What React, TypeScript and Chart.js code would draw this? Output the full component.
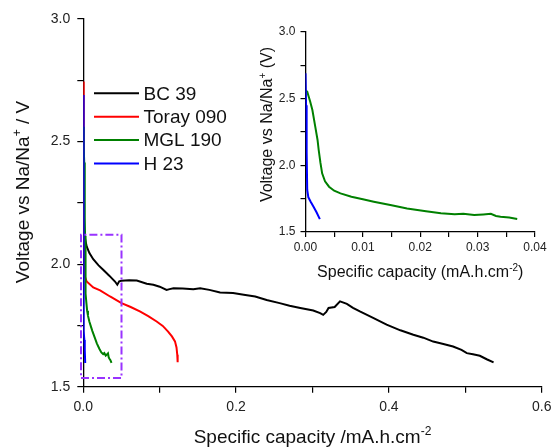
import React, { useEffect, useRef } from 'react';
import { Chart, registerables } from 'chart.js';

Chart.register(...registerables);

const FONT = "'Liberation Sans', Arial, Helvetica, sans-serif";

// ---------- data ----------
const seriesLabels = ['BC 39', 'Toray 090', 'MGL 190', 'H 23'];
const seriesColors = ['#000000', '#ff0000', '#008000', '#0000ff'];
const insetSeries = ['MGL 190', 'H 23'];

const bcX = [0, 0.0005, 0.001, 0.0022, 0.0044, 0.008, 0.013, 0.02, 0.026, 0.034, 0.0415, 0.0445, 0.047, 0.05, 0.06, 0.07, 0.083, 0.0917, 0.1, 0.109, 0.113, 0.118, 0.13, 0.144, 0.153, 0.165, 0.179, 0.196, 0.21, 0.225, 0.24, 0.257, 0.27, 0.284, 0.301, 0.31, 0.314, 0.318, 0.321, 0.329, 0.336, 0.345, 0.353, 0.362, 0.38, 0.397, 0.415, 0.432, 0.445, 0.458, 0.47, 0.484, 0.495, 0.502, 0.51, 0.519, 0.528, 0.537];
const bcY = [2.2, 2.16, 2.13, 2.106, 2.072, 2.045, 2.02, 1.995, 1.977, 1.953, 1.929, 1.916, 1.93, 1.932, 1.934, 1.933, 1.92, 1.916, 1.908, 1.895, 1.898, 1.902, 1.901, 1.898, 1.902, 1.895, 1.884, 1.882, 1.875, 1.868, 1.854, 1.841, 1.83, 1.821, 1.811, 1.8, 1.793, 1.805, 1.821, 1.825, 1.848, 1.838, 1.822, 1.807, 1.78, 1.753, 1.73, 1.712, 1.7, 1.684, 1.675, 1.664, 1.65, 1.637, 1.632, 1.626, 1.612, 1.599];

const torayX = [0, 0.0005, 0.001, 0.002, 0.0044, 0.013, 0.022, 0.035, 0.05, 0.062, 0.074, 0.085, 0.096, 0.104, 0.111, 0.116, 0.12, 0.122, 0.123, 0.1235];
const torayY = [2.745, 2.4, 2.1, 1.95, 1.929, 1.905, 1.893, 1.868, 1.841, 1.825, 1.807, 1.788, 1.766, 1.748, 1.725, 1.705, 1.685, 1.66, 1.63, 1.6];

const mglX = [0, 0.0003, 0.0008, 0.0012, 0.0017, 0.0021, 0.0023, 0.0026, 0.0029, 0.0034, 0.0041, 0.005, 0.0061, 0.008, 0.01, 0.0119, 0.015, 0.0177, 0.021, 0.0236, 0.026, 0.0275, 0.0294, 0.031, 0.0323, 0.0332, 0.034, 0.0355, 0.0369];
const mglY = [2.56, 2.552, 2.48, 2.415, 2.29, 2.19, 2.115, 2.02, 1.94, 1.88, 1.84, 1.81, 1.79, 1.765, 1.745, 1.727, 1.7, 1.677, 1.655, 1.64, 1.633, 1.637, 1.627, 1.632, 1.636, 1.62, 1.615, 1.608, 1.597];

const h23X = [0, 0.0001, 0.0002, 0.0003, 0.0005, 0.0009, 0.0014, 0.0019, 0.0025];
const h23Y = [2.69, 2.45, 2.1, 1.815, 1.76, 1.727, 1.69, 1.65, 1.597];

const seriesX = [bcX, torayX, mglX, h23X];
const seriesY = [bcY, torayY, mglY, h23Y];

// zoom box (data coordinates of corners)
const boxX = [-0.003, 0.05, 0.05, -0.003, -0.003];
const boxY = [1.535, 1.535, 2.12, 2.12, 1.535];

// axis ranges and tick labels
const mainXRange = [0, 0.6];
const mainYRange = [1.5, 3.0];
const mainXTickLabels = ['0.0', '0.2', '0.4', '0.6'];
const mainYTickLabels = ['1.5', '2.0', '2.5', '3.0'];
const insetXRange = [0, 0.04];
const insetYRange = [1.5, 3.0];
const insetXTickLabels = ['0.00', '0.01', '0.02', '0.03', '0.04'];
const insetYTickLabels = ['1.5', '2.0', '2.5', '3.0'];

// ---------- helpers ----------
type Part = { t: string; sup?: boolean };

function drawRich(ctx: CanvasRenderingContext2D, parts: Part[], size: number, center: number, baseline: number, rotated: boolean) {
  ctx.save();
  const supSize = Math.round(size * 0.62);
  let total = 0;
  const widths = parts.map((p) => {
    ctx.font = `${p.sup ? supSize : size}px ${FONT}`;
    const w = ctx.measureText(p.t).width;
    total += w;
    return w;
  });
  if (rotated) {
    ctx.translate(baseline, center);
    ctx.rotate(-Math.PI / 2);
  } else {
    ctx.translate(center, baseline);
  }
  ctx.textBaseline = 'alphabetic';
  ctx.textAlign = 'left';
  ctx.fillStyle = '#111';
  let x = -total / 2;
  parts.forEach((p, i) => {
    ctx.font = `${p.sup ? supSize : size}px ${FONT}`;
    ctx.fillText(p.t, x, p.sup ? -size * 0.4 : 0);
    x += widths[i];
  });
  ctx.restore();
}

function titlesPlugin(cfg: { x: Part[]; y: Part[]; size: number; xBase: number; yBase: number; yCenter: number }) {
  return {
    id: 'richTitles',
    afterDraw(chart: any) {
      const ctx = chart.ctx as CanvasRenderingContext2D;
      const a = chart.chartArea;
      drawRich(ctx, cfg.x, cfg.size, (a.left + a.right) / 2, cfg.xBase, false);
      drawRich(ctx, cfg.y, cfg.size, cfg.yCenter, cfg.yBase, true);
    },
  };
}

const legendPlugin = {
  id: 'customLegend',
  afterDraw(chart: any) {
    const ctx = chart.ctx as CanvasRenderingContext2D;
    ctx.save();
    ctx.font = `19px ${FONT}`;
    ctx.textBaseline = 'middle';
    ctx.textAlign = 'left';
    seriesLabels.forEach((lab, i) => {
      const ds = chart.data.datasets.find((d: any) => d.label === lab);
      const y = 93.3 + i * 23.4;
      ctx.strokeStyle = ds.borderColor;
      ctx.lineWidth = 2;
      ctx.beginPath();
      ctx.moveTo(94, y);
      ctx.lineTo(139, y);
      ctx.stroke();
      ctx.fillStyle = '#111';
      ctx.fillText(lab, 143.5, y + 1);
    });
    ctx.restore();
  },
};

function isMultiple(v: number, step: number) {
  const r = v / step;
  return Math.abs(r - Math.round(r)) < 1e-6;
}

function seriesDatasets(only?: string[]) {
  return seriesX
    .map((xs, i) => ({
      label: seriesLabels[i],
      data: xs.map((x, j) => ({ x, y: seriesY[i][j] })),
      borderColor: seriesColors[i],
      backgroundColor: seriesColors[i],
      borderWidth: 2,
      pointRadius: 0,
      fill: false,
      tension: 0,
      order: 4 - i,
    }))
    .filter((d) => !only || only.includes(d.label));
}

function axis(opts: {
  min: number; max: number; step: number; major: number; labels: string[]; decimals: number;
  fontSize: number; tl: number; pad: number; size: number; horizontal: boolean;
}) {
  return {
    type: 'linear' as const,
    min: opts.min,
    max: opts.max,
    afterFit: (s: any) => {
      if (opts.horizontal) s.height = opts.size; else s.width = opts.size;
      s.paddingLeft = 0; s.paddingRight = 0; s.paddingTop = 0; s.paddingBottom = 0;
    },
    ticks: {
      stepSize: opts.step,
      autoSkip: false,
      maxRotation: 0,
      padding: opts.pad,
      color: '#222',
      font: { size: opts.fontSize, family: FONT },
      callback: (v: any) => {
        const n = Number(v);
        if (!isMultiple(n - opts.min, opts.major)) return '';
        const s = n.toFixed(opts.decimals);
        return opts.labels.includes(s) ? s : '';
      },
    },
    grid: { display: true, drawOnChartArea: false, drawTicks: true, tickLength: opts.tl, color: '#000', lineWidth: 1.2 },
    border: { display: true, color: '#000', width: 1.3 },
  };
}

function MainChart() {
  const ref = useRef<HTMLCanvasElement>(null);
  useEffect(() => {
    const ds: any[] = seriesDatasets();
    ds.push({
      label: 'zoom box',
      data: boxX.map((x, j) => ({ x, y: boxY[j] })),
      borderColor: '#9933ff',
      borderWidth: 2,
      borderDash: [8, 3, 2, 3],
      pointRadius: 0,
      fill: false,
      tension: 0,
      clip: false,
      order: -1,
    });
    const chart = new Chart(ref.current!, {
      type: 'line',
      data: { datasets: ds },
      options: {
        animation: false,
        responsive: false,
        layout: { padding: { left: 0, top: 19, right: 12.3, bottom: 0 } },
        plugins: { legend: { display: false }, tooltip: { enabled: false }, title: { display: false } },
        scales: {
          x: axis({ min: mainXRange[0], max: mainXRange[1], step: 0.1, major: 0.2, labels: mainXTickLabels, decimals: 1, fontSize: 14, tl: 6, pad: 6, size: 60.3, horizontal: true }),
          y: axis({ min: mainYRange[0], max: mainYRange[1], step: 0.25, major: 0.5, labels: mainYTickLabels, decimals: 1, fontSize: 14, tl: 6, pad: 7, size: 83.3, horizontal: false }),
        },
      } as any,
      plugins: [
        titlesPlugin({
          x: [{ t: 'Specific capacity /mA.h.cm' }, { t: '-2', sup: true }],
          y: [{ t: 'Voltage vs Na/Na' }, { t: '+', sup: true }, { t: ' / V' }],
          size: 19, xBase: 443, yBase: 28.5, yCenter: 192,
        }),
        legendPlugin,
      ],
    });
    return () => chart.destroy();
  }, []);
  return <canvas ref={ref} width={554} height={447} style={{ position: 'absolute', left: 0, top: 0, width: 554, height: 447 }} />;
}

function InsetChart() {
  const ref = useRef<HTMLCanvasElement>(null);
  useEffect(() => {
    const chart = new Chart(ref.current!, {
      type: 'line',
      data: { datasets: seriesDatasets(insetSeries) },
      options: {
        animation: false,
        responsive: false,
        layout: { padding: { left: 0, top: 32, right: 19, bottom: 0 } },
        plugins: { legend: { display: false }, tooltip: { enabled: false }, title: { display: false } },
        scales: {
          x: axis({ min: insetXRange[0], max: insetXRange[1], step: 0.005, major: 0.01, labels: insetXTickLabels, decimals: 2, fontSize: 12, tl: 5, pad: 3, size: 68, horizontal: true }),
          y: axis({ min: insetYRange[0], max: insetYRange[1], step: 0.25, major: 0.5, labels: insetYTickLabels, decimals: 1, fontSize: 12, tl: 5, pad: 5, size: 75.5, horizontal: false }),
        },
      } as any,
      plugins: [
        titlesPlugin({
          x: [{ t: 'Specific capacity (mA.h.cm' }, { t: '-2', sup: true }, { t: ')' }],
          y: [{ t: 'Voltage vs Na/Na' }, { t: '+', sup: true }, { t: ' (V)' }],
          size: 16, xBase: 277, yBase: 42, yCenter: 124.5,
        }),
      ],
    });
    return () => chart.destroy();
  }, []);
  return <canvas ref={ref} width={324} height={300} style={{ position: 'absolute', left: 230, top: 0, width: 324, height: 300 }} />;
}

export default function App() {
  return (
    <div style={{ position: 'fixed', left: 0, top: 0, width: 554, height: 447, background: '#ffffff', overflow: 'hidden' }}>
      <MainChart />
      <InsetChart />
    </div>
  );
}
